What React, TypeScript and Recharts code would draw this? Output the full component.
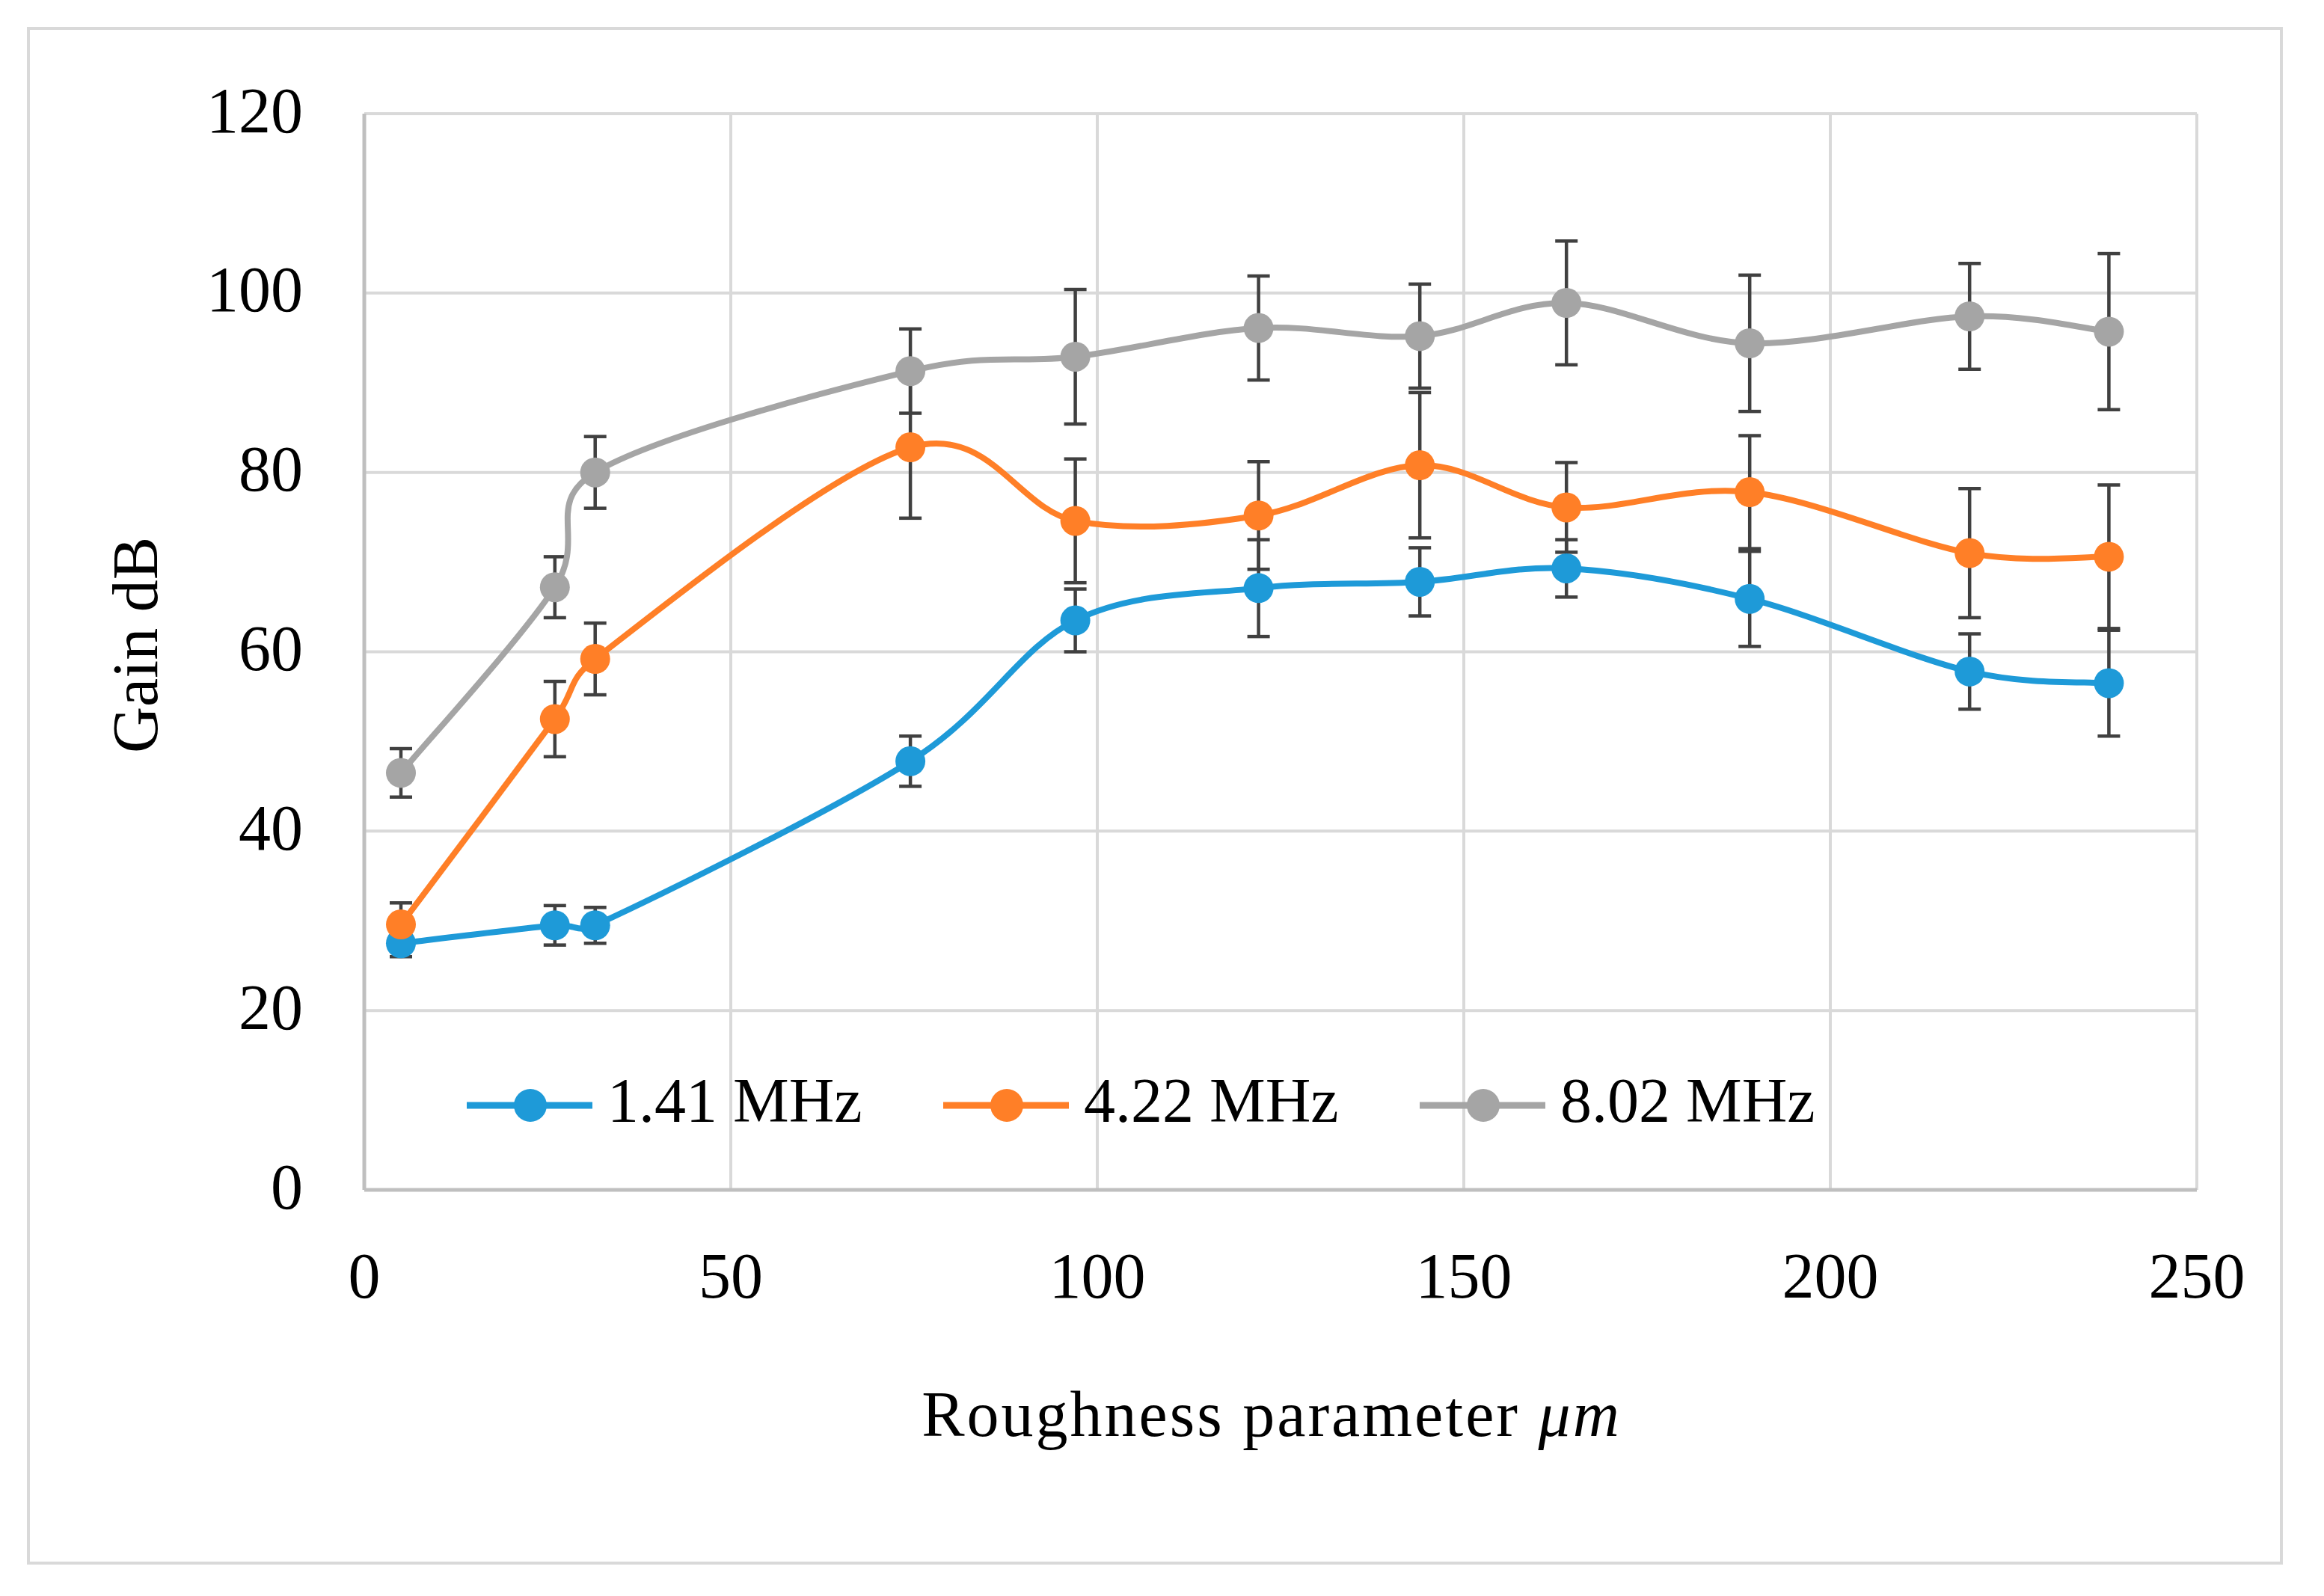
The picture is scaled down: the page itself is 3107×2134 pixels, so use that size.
import React from "react";
import { LineChart, Line, XAxis, YAxis, CartesianGrid, ErrorBar, Legend } from "recharts";

// roughness parameter (µm) for each measured sample
const roughness = [5, 26, 31.5, 74.5, 97, 122, 144, 164, 189, 219, 238];

// gain (dB) per frequency
const gain141 = [27.5, 29.5, 29.5, 47.8, 63.5, 67.1, 67.8, 69.3, 65.9, 57.8, 56.5];
const gain422 = [29.6, 52.5, 59.2, 82.8, 74.6, 75.2, 80.8, 76.1, 77.8, 71.0, 70.6];
const gain802 = [46.5, 67.2, 80.0, 91.3, 92.9, 96.1, 95.2, 98.9, 94.4, 97.4, 95.7];

// symmetric error bars
const err141 = [1.5, 2.2, 2.0, 2.8, 3.5, 5.4, 3.8, 3.2, 5.3, 4.2, 5.9];
const err422 = [2.4, 4.2, 4.0, 7.9, 6.9, 6.0, 8.1, 5.0, 6.3, 7.2, 8.0];
const err802 = [2.7, 3.4, 4.0, 4.7, 7.5, 5.8, 5.8, 6.9, 7.6, 5.9, 8.7];

const xTicks = [0, 50, 100, 150, 200, 250];
const yTicks = [0, 20, 40, 60, 80, 100, 120];

const data = roughness.map((x, i) => ({
  x,
  g141: gain141[i],
  g422: gain422[i],
  g802: gain802[i],
  e141: err141[i],
  e422: err422[i],
  e802: err802[i],
}));

const W = 3107;
const H = 2134;
const FONT = "'Liberation Serif', 'Times New Roman', serif";
const BLUE = "#1e9ad8";
const ORANGE = "#ff7f27";
const GRAY = "#a5a5a5";
const GRID = "#d9d9d9";
const ERR = "#404040";

const dist = (a: number[], b: number[]) => Math.hypot(b[0] - a[0], b[1] - a[1]);

// Excel style smoothed line: Catmull-Rom bezier, control arms capped at half the segment
const smoothCurve = (context: any) => {
  let pts: number[][] = [];
  return {
    areaStart() {},
    areaEnd() {},
    lineStart() {
      pts = [];
    },
    point(x: number, y: number) {
      pts.push([+x, +y]);
    },
    lineEnd() {
      if (!pts.length) return;
      context.moveTo(pts[0][0], pts[0][1]);
      for (let i = 0; i < pts.length - 1; i++) {
        const p0 = pts[Math.max(0, i - 1)];
        const p1 = pts[i];
        const p2 = pts[i + 1];
        const p3 = pts[Math.min(pts.length - 1, i + 2)];
        const d12 = dist(p1, p2);
        const d02 = dist(p0, p2);
        const d13 = dist(p1, p3);
        const f0 = d02 > 0 ? Math.min(1 / 6, d12 / (2 * d02)) : 0;
        const f1 = d13 > 0 ? Math.min(1 / 6, d12 / (2 * d13)) : 0;
        context.bezierCurveTo(
          p1[0] + (p2[0] - p0[0]) * f0,
          p1[1] + (p2[1] - p0[1]) * f0,
          p2[0] - (p3[0] - p1[0]) * f1,
          p2[1] - (p3[1] - p1[1]) * f1,
          p2[0],
          p2[1]
        );
      }
    },
  };
};

const renderLegend = (props: any) => {
  const payload = props.payload || [];
  return (
    <svg width={W} height={120} style={{ display: "block" }}>
      {payload.map((entry: any, i: number) => {
        const x0 = 624 + i * 637;
        return (
          <g key={entry.value}>
            <line x1={x0} x2={x0 + 168} y1={60} y2={60} stroke={entry.color} strokeWidth={9} />
            <circle cx={x0 + 85} cy={60} r={22} fill={entry.color} />
            <text x={x0 + 188} y={82} fontFamily={FONT} fontSize={84} fill="#000">
              {entry.value}
            </text>
          </g>
        );
      })}
    </svg>
  );
};

const XTitle = (props: any) => {
  const vb = props.viewBox;
  return (
    <text
      x={vb.x + vb.width / 2 - 12}
      y={1920}
      textAnchor="middle"
      fontFamily={FONT}
      fontSize={86}
      letterSpacing={3}
      fill="#000"
    >
      Roughness parameter <tspan fontStyle="italic">μm</tspan>
    </text>
  );
};

const YTitle = (props: any) => {
  const vb = props.viewBox;
  const cy = vb.y + vb.height / 2 - 9;
  return (
    <text
      x={210}
      y={cy}
      transform={`rotate(-90 210 ${cy})`}
      textAnchor="middle"
      fontFamily={FONT}
      fontSize={86}
      fill="#000"
    >
      Gain dB
    </text>
  );
};

export default function App() {
  const tickStyle = { fontFamily: FONT, fontSize: 86, fill: "#000" };
  return (
    <div style={{ position: "absolute", left: 0, top: 0, width: W, height: H, background: "#fff" }}>
      <div
        style={{
          position: "absolute",
          left: 36,
          top: 36,
          width: 3052 - 36,
          height: 2092 - 36,
          border: "4px solid #d9d9d9",
          boxSizing: "border-box",
        }}
      />
      <LineChart
        width={W}
        height={H}
        data={data}
        margin={{ top: 152, right: 170, bottom: 443, left: 287 }}
        style={{ fontFamily: FONT }}
      >
        <CartesianGrid stroke={GRID} strokeWidth={4} />
        <XAxis
          type="number"
          dataKey="x"
          domain={[0, 250]}
          ticks={xTicks}
          height={100}
          stroke="#bfbfbf"
          strokeWidth={5}
          tickLine={false}
          tickSize={0}
          tickMargin={83}
          tick={tickStyle}
          label={{ content: XTitle }}
        />
        <YAxis
          domain={[0, 120]}
          ticks={yTicks}
          width={200}
          allowDataOverflow
          stroke="#bfbfbf"
          strokeWidth={5}
          tickLine={false}
          tickSize={0}
          tickMargin={82}
          tick={{ ...tickStyle, dy: -6 }}
          label={{ content: YTitle }}
        />
        <Legend
          layout="horizontal"
          verticalAlign="middle"
          align="center"
          content={renderLegend}
          wrapperStyle={{ left: 0, top: 1418, width: W, height: 120 }}
        />
        <Line
          type={smoothCurve as any}
          dataKey="g141"
          name="1.41 MHz"
          stroke={BLUE}
          strokeWidth={8}
          dot={{ r: 20, fill: BLUE, stroke: BLUE, strokeWidth: 0 }}
          activeDot={false}
          isAnimationActive={false}
        >
          <ErrorBar dataKey="e141" direction="y" width={15} stroke={ERR} strokeWidth={4.5} />
        </Line>
        <Line
          type={smoothCurve as any}
          dataKey="g422"
          name="4.22 MHz"
          stroke={ORANGE}
          strokeWidth={8}
          dot={{ r: 20, fill: ORANGE, stroke: ORANGE, strokeWidth: 0 }}
          activeDot={false}
          isAnimationActive={false}
        >
          <ErrorBar dataKey="e422" direction="y" width={15} stroke={ERR} strokeWidth={4.5} />
        </Line>
        <Line
          type={smoothCurve as any}
          dataKey="g802"
          name="8.02 MHz"
          stroke={GRAY}
          strokeWidth={8}
          dot={{ r: 20, fill: GRAY, stroke: GRAY, strokeWidth: 0 }}
          activeDot={false}
          isAnimationActive={false}
        >
          <ErrorBar dataKey="e802" direction="y" width={15} stroke={ERR} strokeWidth={4.5} />
        </Line>
      </LineChart>
    </div>
  );
}
